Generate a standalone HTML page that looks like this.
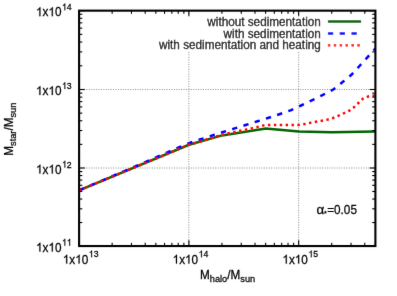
<!DOCTYPE html>
<html><head><meta charset="utf-8"><title>plot</title>
<style>
html,body{margin:0;padding:0;background:#fff;}
svg{display:block;}
text{font-family:"Liberation Sans",sans-serif;fill:#000;stroke:#000;stroke-width:0.24px;}
</style></head><body>
<svg width="397" height="296" viewBox="0 0 397 296">
<defs><filter id="bl" x="0" y="0" width="397" height="296" filterUnits="userSpaceOnUse"><feConvolveMatrix order="3" kernelMatrix="0.0049 0.0602 0.0049 0.0602 0.7396 0.0602 0.0049 0.0602 0.0049" edgeMode="duplicate" preserveAlpha="false"/></filter></defs>
<rect width="397" height="296" fill="#fff"/>
<g filter="url(#bl)">
<g stroke="#5a5a5a" stroke-width="0.7" stroke-dasharray="1 1.43" fill="none">
<line x1="188.88" y1="10.65" x2="188.88" y2="246.05"/>
<line x1="298.67" y1="10.65" x2="298.67" y2="246.05"/>
<line x1="79.1" y1="168.00" x2="375.4" y2="168.00"/>
<line x1="79.1" y1="89.50" x2="375.4" y2="89.50"/>
</g>
<rect x="154" y="16.4" width="212" height="34.6" fill="#fff"/>
<polyline points="79.1,190.3 189.0,144.8 222.0,135.4 265.7,128.6 298.8,131.6 331.9,132.2 375.4,131.6" fill="none" stroke="#006400" stroke-width="2.5"/>
<polyline points="79.1,190.3 105.0,179.3 130.0,168.7 157.0,156.9 178.6,147.5 189.6,142.9 200.7,139.3 212.2,135.5 223.3,132.0 234.7,128.4 246.4,124.8 257.5,121.3 268.7,117.8 280.1,114.0 291.2,110.2 301.1,105.5 312.3,100.1 323.0,94.8 333.6,89.3 342.6,82.1 351.4,74.8 359.5,66.0 367.6,57.1 375.4,48.6" fill="none" stroke="#0000ff" stroke-width="2.5" stroke-dasharray="5.3 6.485"/>
<polyline points="79.1,190.3 189.0,144.8 200.5,141.5 206.3,139.6 212.0,137.9 217.4,136.3 223.1,134.7 228.9,133.2 234.6,131.9 240.0,130.7 246.4,129.5 252.0,128.3 257.8,126.9 263.1,125.6 267.0,125.0 298.8,125.0 304.7,124.1 310.6,122.8 316.1,121.7 321.9,120.7 327.8,119.6 333.2,118.0 338.8,115.6 344.1,113.2 349.4,110.6 353.9,107.3 358.4,103.0 363.0,98.6 368.2,96.5 373.8,95.6 375.4,95.4" fill="none" stroke="#ff0000" stroke-width="2.5" stroke-dasharray="2.4 3.495"/>
<line x1="327.9" y1="21.5" x2="361.1" y2="21.5" stroke="#006400" stroke-width="2.5"/>
<line x1="327.9" y1="33.4" x2="361.1" y2="33.4" stroke="#0000ff" stroke-width="2.5" stroke-dasharray="5.3 6.485"/>
<line x1="327.9" y1="45.2" x2="361.1" y2="45.2" stroke="#ff0000" stroke-width="2.5" stroke-dasharray="2.4 3.495"/>
<g stroke="#000" stroke-width="1.1" fill="none">
<line x1="79.10" y1="246.05" x2="79.10" y2="240.35"/>
<line x1="79.10" y1="10.65" x2="79.10" y2="16.35"/>
<line x1="112.15" y1="246.05" x2="112.15" y2="242.85"/>
<line x1="112.15" y1="10.65" x2="112.15" y2="13.85"/>
<line x1="131.48" y1="246.05" x2="131.48" y2="242.85"/>
<line x1="131.48" y1="10.65" x2="131.48" y2="13.85"/>
<line x1="145.20" y1="246.05" x2="145.20" y2="242.85"/>
<line x1="145.20" y1="10.65" x2="145.20" y2="13.85"/>
<line x1="155.83" y1="246.05" x2="155.83" y2="242.85"/>
<line x1="155.83" y1="10.65" x2="155.83" y2="13.85"/>
<line x1="164.53" y1="246.05" x2="164.53" y2="242.85"/>
<line x1="164.53" y1="10.65" x2="164.53" y2="13.85"/>
<line x1="171.88" y1="246.05" x2="171.88" y2="242.85"/>
<line x1="171.88" y1="10.65" x2="171.88" y2="13.85"/>
<line x1="178.24" y1="246.05" x2="178.24" y2="242.85"/>
<line x1="178.24" y1="10.65" x2="178.24" y2="13.85"/>
<line x1="183.86" y1="246.05" x2="183.86" y2="242.85"/>
<line x1="183.86" y1="10.65" x2="183.86" y2="13.85"/>
<line x1="188.88" y1="246.05" x2="188.88" y2="240.35"/>
<line x1="188.88" y1="10.65" x2="188.88" y2="16.35"/>
<line x1="221.93" y1="246.05" x2="221.93" y2="242.85"/>
<line x1="221.93" y1="10.65" x2="221.93" y2="13.85"/>
<line x1="241.26" y1="246.05" x2="241.26" y2="242.85"/>
<line x1="241.26" y1="10.65" x2="241.26" y2="13.85"/>
<line x1="254.98" y1="246.05" x2="254.98" y2="242.85"/>
<line x1="254.98" y1="10.65" x2="254.98" y2="13.85"/>
<line x1="265.62" y1="246.05" x2="265.62" y2="242.85"/>
<line x1="265.62" y1="10.65" x2="265.62" y2="13.85"/>
<line x1="274.31" y1="246.05" x2="274.31" y2="242.85"/>
<line x1="274.31" y1="10.65" x2="274.31" y2="13.85"/>
<line x1="281.66" y1="246.05" x2="281.66" y2="242.85"/>
<line x1="281.66" y1="10.65" x2="281.66" y2="13.85"/>
<line x1="288.03" y1="246.05" x2="288.03" y2="242.85"/>
<line x1="288.03" y1="10.65" x2="288.03" y2="13.85"/>
<line x1="293.64" y1="246.05" x2="293.64" y2="242.85"/>
<line x1="293.64" y1="10.65" x2="293.64" y2="13.85"/>
<line x1="298.67" y1="246.05" x2="298.67" y2="240.35"/>
<line x1="298.67" y1="10.65" x2="298.67" y2="16.35"/>
<line x1="331.71" y1="246.05" x2="331.71" y2="242.85"/>
<line x1="331.71" y1="10.65" x2="331.71" y2="13.85"/>
<line x1="351.04" y1="246.05" x2="351.04" y2="242.85"/>
<line x1="351.04" y1="10.65" x2="351.04" y2="13.85"/>
<line x1="364.76" y1="246.05" x2="364.76" y2="242.85"/>
<line x1="364.76" y1="10.65" x2="364.76" y2="13.85"/>
<line x1="375.40" y1="246.05" x2="375.40" y2="242.85"/>
<line x1="375.40" y1="10.65" x2="375.40" y2="13.85"/>
<line x1="79.1" y1="246.05" x2="84.80" y2="246.05"/>
<line x1="375.4" y1="246.05" x2="369.70" y2="246.05"/>
<line x1="79.1" y1="222.55" x2="82.30" y2="222.55"/>
<line x1="375.4" y1="222.55" x2="372.20" y2="222.55"/>
<line x1="79.1" y1="208.81" x2="82.30" y2="208.81"/>
<line x1="375.4" y1="208.81" x2="372.20" y2="208.81"/>
<line x1="79.1" y1="199.06" x2="82.30" y2="199.06"/>
<line x1="375.4" y1="199.06" x2="372.20" y2="199.06"/>
<line x1="79.1" y1="191.50" x2="82.30" y2="191.50"/>
<line x1="375.4" y1="191.50" x2="372.20" y2="191.50"/>
<line x1="79.1" y1="185.32" x2="82.30" y2="185.32"/>
<line x1="375.4" y1="185.32" x2="372.20" y2="185.32"/>
<line x1="79.1" y1="180.09" x2="82.30" y2="180.09"/>
<line x1="375.4" y1="180.09" x2="372.20" y2="180.09"/>
<line x1="79.1" y1="175.56" x2="82.30" y2="175.56"/>
<line x1="375.4" y1="175.56" x2="372.20" y2="175.56"/>
<line x1="79.1" y1="171.57" x2="82.30" y2="171.57"/>
<line x1="375.4" y1="171.57" x2="372.20" y2="171.57"/>
<line x1="79.1" y1="168.00" x2="84.80" y2="168.00"/>
<line x1="375.4" y1="168.00" x2="369.70" y2="168.00"/>
<line x1="79.1" y1="144.37" x2="82.30" y2="144.37"/>
<line x1="375.4" y1="144.37" x2="372.20" y2="144.37"/>
<line x1="79.1" y1="130.55" x2="82.30" y2="130.55"/>
<line x1="375.4" y1="130.55" x2="372.20" y2="130.55"/>
<line x1="79.1" y1="120.74" x2="82.30" y2="120.74"/>
<line x1="375.4" y1="120.74" x2="372.20" y2="120.74"/>
<line x1="79.1" y1="113.13" x2="82.30" y2="113.13"/>
<line x1="375.4" y1="113.13" x2="372.20" y2="113.13"/>
<line x1="79.1" y1="106.92" x2="82.30" y2="106.92"/>
<line x1="375.4" y1="106.92" x2="372.20" y2="106.92"/>
<line x1="79.1" y1="101.66" x2="82.30" y2="101.66"/>
<line x1="375.4" y1="101.66" x2="372.20" y2="101.66"/>
<line x1="79.1" y1="97.11" x2="82.30" y2="97.11"/>
<line x1="375.4" y1="97.11" x2="372.20" y2="97.11"/>
<line x1="79.1" y1="93.09" x2="82.30" y2="93.09"/>
<line x1="375.4" y1="93.09" x2="372.20" y2="93.09"/>
<line x1="79.1" y1="89.50" x2="84.80" y2="89.50"/>
<line x1="375.4" y1="89.50" x2="369.70" y2="89.50"/>
<line x1="79.1" y1="65.76" x2="82.30" y2="65.76"/>
<line x1="375.4" y1="65.76" x2="372.20" y2="65.76"/>
<line x1="79.1" y1="51.88" x2="82.30" y2="51.88"/>
<line x1="375.4" y1="51.88" x2="372.20" y2="51.88"/>
<line x1="79.1" y1="42.03" x2="82.30" y2="42.03"/>
<line x1="375.4" y1="42.03" x2="372.20" y2="42.03"/>
<line x1="79.1" y1="34.39" x2="82.30" y2="34.39"/>
<line x1="375.4" y1="34.39" x2="372.20" y2="34.39"/>
<line x1="79.1" y1="28.14" x2="82.30" y2="28.14"/>
<line x1="375.4" y1="28.14" x2="372.20" y2="28.14"/>
<line x1="79.1" y1="22.86" x2="82.30" y2="22.86"/>
<line x1="375.4" y1="22.86" x2="372.20" y2="22.86"/>
<line x1="79.1" y1="18.29" x2="82.30" y2="18.29"/>
<line x1="375.4" y1="18.29" x2="372.20" y2="18.29"/>
<line x1="79.1" y1="14.26" x2="82.30" y2="14.26"/>
<line x1="375.4" y1="14.26" x2="372.20" y2="14.26"/>
<line x1="79.1" y1="10.65" x2="84.80" y2="10.65"/>
<line x1="375.4" y1="10.65" x2="369.70" y2="10.65"/>
</g>
<rect x="79.1" y="10.65" width="296.30" height="235.40" fill="none" stroke="#000" stroke-width="2.1"/>
<path transform="translate(36.03,251.55) scale(0.005737,-0.006024)" d="M763 0L583 0L583 1147Q518 1085 412 1023Q307 961 223 930L223 1104Q374 1175 487 1276Q600 1377 647 1472L763 1472Z" fill="#000" stroke="#000" stroke-width="41.8"/>
<text transform="translate(42.56,251.55) scale(1,1.05)" text-anchor="start" font-size="11.75">x</text>
<path transform="translate(48.43,251.55) scale(0.005737,-0.006024)" d="M763 0L583 0L583 1147Q518 1085 412 1023Q307 961 223 930L223 1104Q374 1175 487 1276Q600 1377 647 1472L763 1472Z" fill="#000" stroke="#000" stroke-width="41.8"/>
<text transform="translate(54.97,251.55) scale(1,1.05)" text-anchor="start" font-size="11.75">0</text>
<path transform="translate(62.00,245.65) scale(0.004248,-0.004630)" d="M763 0L583 0L583 1147Q518 1085 412 1023Q307 961 223 930L223 1104Q374 1175 487 1276Q600 1377 647 1472L763 1472Z" fill="#000" stroke="#000" stroke-width="56.5"/>
<path transform="translate(66.84,245.65) scale(0.004248,-0.004630)" d="M763 0L583 0L583 1147Q518 1085 412 1023Q307 961 223 930L223 1104Q374 1175 487 1276Q600 1377 647 1472L763 1472Z" fill="#000" stroke="#000" stroke-width="56.5"/>
<path transform="translate(36.03,173.50) scale(0.005737,-0.006024)" d="M763 0L583 0L583 1147Q518 1085 412 1023Q307 961 223 930L223 1104Q374 1175 487 1276Q600 1377 647 1472L763 1472Z" fill="#000" stroke="#000" stroke-width="41.8"/>
<text transform="translate(42.56,173.50) scale(1,1.05)" text-anchor="start" font-size="11.75">x</text>
<path transform="translate(48.43,173.50) scale(0.005737,-0.006024)" d="M763 0L583 0L583 1147Q518 1085 412 1023Q307 961 223 930L223 1104Q374 1175 487 1276Q600 1377 647 1472L763 1472Z" fill="#000" stroke="#000" stroke-width="41.8"/>
<text transform="translate(54.97,173.50) scale(1,1.05)" text-anchor="start" font-size="11.75">0</text>
<path transform="translate(62.00,167.60) scale(0.004248,-0.004630)" d="M763 0L583 0L583 1147Q518 1085 412 1023Q307 961 223 930L223 1104Q374 1175 487 1276Q600 1377 647 1472L763 1472Z" fill="#000" stroke="#000" stroke-width="56.5"/>
<text transform="translate(66.84,167.60) scale(1,1.09)" text-anchor="start" font-size="8.7">2</text>
<path transform="translate(36.03,95.00) scale(0.005737,-0.006024)" d="M763 0L583 0L583 1147Q518 1085 412 1023Q307 961 223 930L223 1104Q374 1175 487 1276Q600 1377 647 1472L763 1472Z" fill="#000" stroke="#000" stroke-width="41.8"/>
<text transform="translate(42.56,95.00) scale(1,1.05)" text-anchor="start" font-size="11.75">x</text>
<path transform="translate(48.43,95.00) scale(0.005737,-0.006024)" d="M763 0L583 0L583 1147Q518 1085 412 1023Q307 961 223 930L223 1104Q374 1175 487 1276Q600 1377 647 1472L763 1472Z" fill="#000" stroke="#000" stroke-width="41.8"/>
<text transform="translate(54.97,95.00) scale(1,1.05)" text-anchor="start" font-size="11.75">0</text>
<path transform="translate(62.00,89.10) scale(0.004248,-0.004630)" d="M763 0L583 0L583 1147Q518 1085 412 1023Q307 961 223 930L223 1104Q374 1175 487 1276Q600 1377 647 1472L763 1472Z" fill="#000" stroke="#000" stroke-width="56.5"/>
<text transform="translate(66.84,89.10) scale(1,1.09)" text-anchor="start" font-size="8.7">3</text>
<path transform="translate(36.03,16.15) scale(0.005737,-0.006024)" d="M763 0L583 0L583 1147Q518 1085 412 1023Q307 961 223 930L223 1104Q374 1175 487 1276Q600 1377 647 1472L763 1472Z" fill="#000" stroke="#000" stroke-width="41.8"/>
<text transform="translate(42.56,16.15) scale(1,1.05)" text-anchor="start" font-size="11.75">x</text>
<path transform="translate(48.43,16.15) scale(0.005737,-0.006024)" d="M763 0L583 0L583 1147Q518 1085 412 1023Q307 961 223 930L223 1104Q374 1175 487 1276Q600 1377 647 1472L763 1472Z" fill="#000" stroke="#000" stroke-width="41.8"/>
<text transform="translate(54.97,16.15) scale(1,1.05)" text-anchor="start" font-size="11.75">0</text>
<path transform="translate(62.00,10.25) scale(0.004248,-0.004630)" d="M763 0L583 0L583 1147Q518 1085 412 1023Q307 961 223 930L223 1104Q374 1175 487 1276Q600 1377 647 1472L763 1472Z" fill="#000" stroke="#000" stroke-width="56.5"/>
<text transform="translate(66.84,10.25) scale(1,1.09)" text-anchor="start" font-size="8.7">4</text>
<path transform="translate(62.83,263.60) scale(0.005737,-0.006024)" d="M763 0L583 0L583 1147Q518 1085 412 1023Q307 961 223 930L223 1104Q374 1175 487 1276Q600 1377 647 1472L763 1472Z" fill="#000" stroke="#000" stroke-width="41.8"/>
<text transform="translate(69.36,263.60) scale(1,1.05)" text-anchor="start" font-size="11.75">x</text>
<path transform="translate(75.23,263.60) scale(0.005737,-0.006024)" d="M763 0L583 0L583 1147Q518 1085 412 1023Q307 961 223 930L223 1104Q374 1175 487 1276Q600 1377 647 1472L763 1472Z" fill="#000" stroke="#000" stroke-width="41.8"/>
<text transform="translate(81.77,263.60) scale(1,1.05)" text-anchor="start" font-size="11.75">0</text>
<path transform="translate(88.80,257.30) scale(0.004248,-0.004630)" d="M763 0L583 0L583 1147Q518 1085 412 1023Q307 961 223 930L223 1104Q374 1175 487 1276Q600 1377 647 1472L763 1472Z" fill="#000" stroke="#000" stroke-width="56.5"/>
<text transform="translate(93.64,257.30) scale(1,1.09)" text-anchor="start" font-size="8.7">3</text>
<path transform="translate(172.61,263.60) scale(0.005737,-0.006024)" d="M763 0L583 0L583 1147Q518 1085 412 1023Q307 961 223 930L223 1104Q374 1175 487 1276Q600 1377 647 1472L763 1472Z" fill="#000" stroke="#000" stroke-width="41.8"/>
<text transform="translate(179.14,263.60) scale(1,1.05)" text-anchor="start" font-size="11.75">x</text>
<path transform="translate(185.02,263.60) scale(0.005737,-0.006024)" d="M763 0L583 0L583 1147Q518 1085 412 1023Q307 961 223 930L223 1104Q374 1175 487 1276Q600 1377 647 1472L763 1472Z" fill="#000" stroke="#000" stroke-width="41.8"/>
<text transform="translate(191.55,263.60) scale(1,1.05)" text-anchor="start" font-size="11.75">0</text>
<path transform="translate(198.58,257.30) scale(0.004248,-0.004630)" d="M763 0L583 0L583 1147Q518 1085 412 1023Q307 961 223 930L223 1104Q374 1175 487 1276Q600 1377 647 1472L763 1472Z" fill="#000" stroke="#000" stroke-width="56.5"/>
<text transform="translate(203.42,257.30) scale(1,1.09)" text-anchor="start" font-size="8.7">4</text>
<path transform="translate(282.39,263.60) scale(0.005737,-0.006024)" d="M763 0L583 0L583 1147Q518 1085 412 1023Q307 961 223 930L223 1104Q374 1175 487 1276Q600 1377 647 1472L763 1472Z" fill="#000" stroke="#000" stroke-width="41.8"/>
<text transform="translate(288.92,263.60) scale(1,1.05)" text-anchor="start" font-size="11.75">x</text>
<path transform="translate(294.80,263.60) scale(0.005737,-0.006024)" d="M763 0L583 0L583 1147Q518 1085 412 1023Q307 961 223 930L223 1104Q374 1175 487 1276Q600 1377 647 1472L763 1472Z" fill="#000" stroke="#000" stroke-width="41.8"/>
<text transform="translate(301.33,263.60) scale(1,1.05)" text-anchor="start" font-size="11.75">0</text>
<path transform="translate(308.37,257.30) scale(0.004248,-0.004630)" d="M763 0L583 0L583 1147Q518 1085 412 1023Q307 961 223 930L223 1104Q374 1175 487 1276Q600 1377 647 1472L763 1472Z" fill="#000" stroke="#000" stroke-width="56.5"/>
<text transform="translate(313.20,257.30) scale(1,1.09)" text-anchor="start" font-size="8.7">5</text>
<text transform="translate(320.80,25.60) scale(1,1.05)" text-anchor="end" font-size="11.75">without sedimentation</text>
<text transform="translate(320.80,37.50) scale(1,1.05)" text-anchor="end" font-size="11.75">with sedimentation</text>
<text transform="translate(320.80,49.30) scale(1,1.05)" text-anchor="end" font-size="11.75">with sedimentation and heating</text>
<text transform="translate(316.5,213.6) scale(1.14,1.05)" font-size="11.75">α</text>
<text transform="translate(324.10,213.60) scale(1,1.05)" text-anchor="start" font-size="11.75"><tspan font-size="7" dy="2.7">*</tspan><tspan dx="0.4" dy="-1.9">=</tspan><tspan dy="-0.8">0.05</tspan></text>
<text transform="translate(227.60,278.80) scale(1,1.05)" text-anchor="middle" font-size="11.75">M<tspan font-size="9.25" dy="3.0">halo</tspan><tspan dy="-3.0">/M</tspan><tspan font-size="9.25" dy="3.0">sun</tspan></text>
<text transform="translate(12.80,129.20) rotate(-90) scale(1,1.05)" text-anchor="middle" font-size="11.75">M<tspan font-size="9.25" dy="3.0">star</tspan><tspan dy="-3.0">/M</tspan><tspan font-size="9.25" dy="3.0">sun</tspan></text>
</g>
</svg></body></html>
